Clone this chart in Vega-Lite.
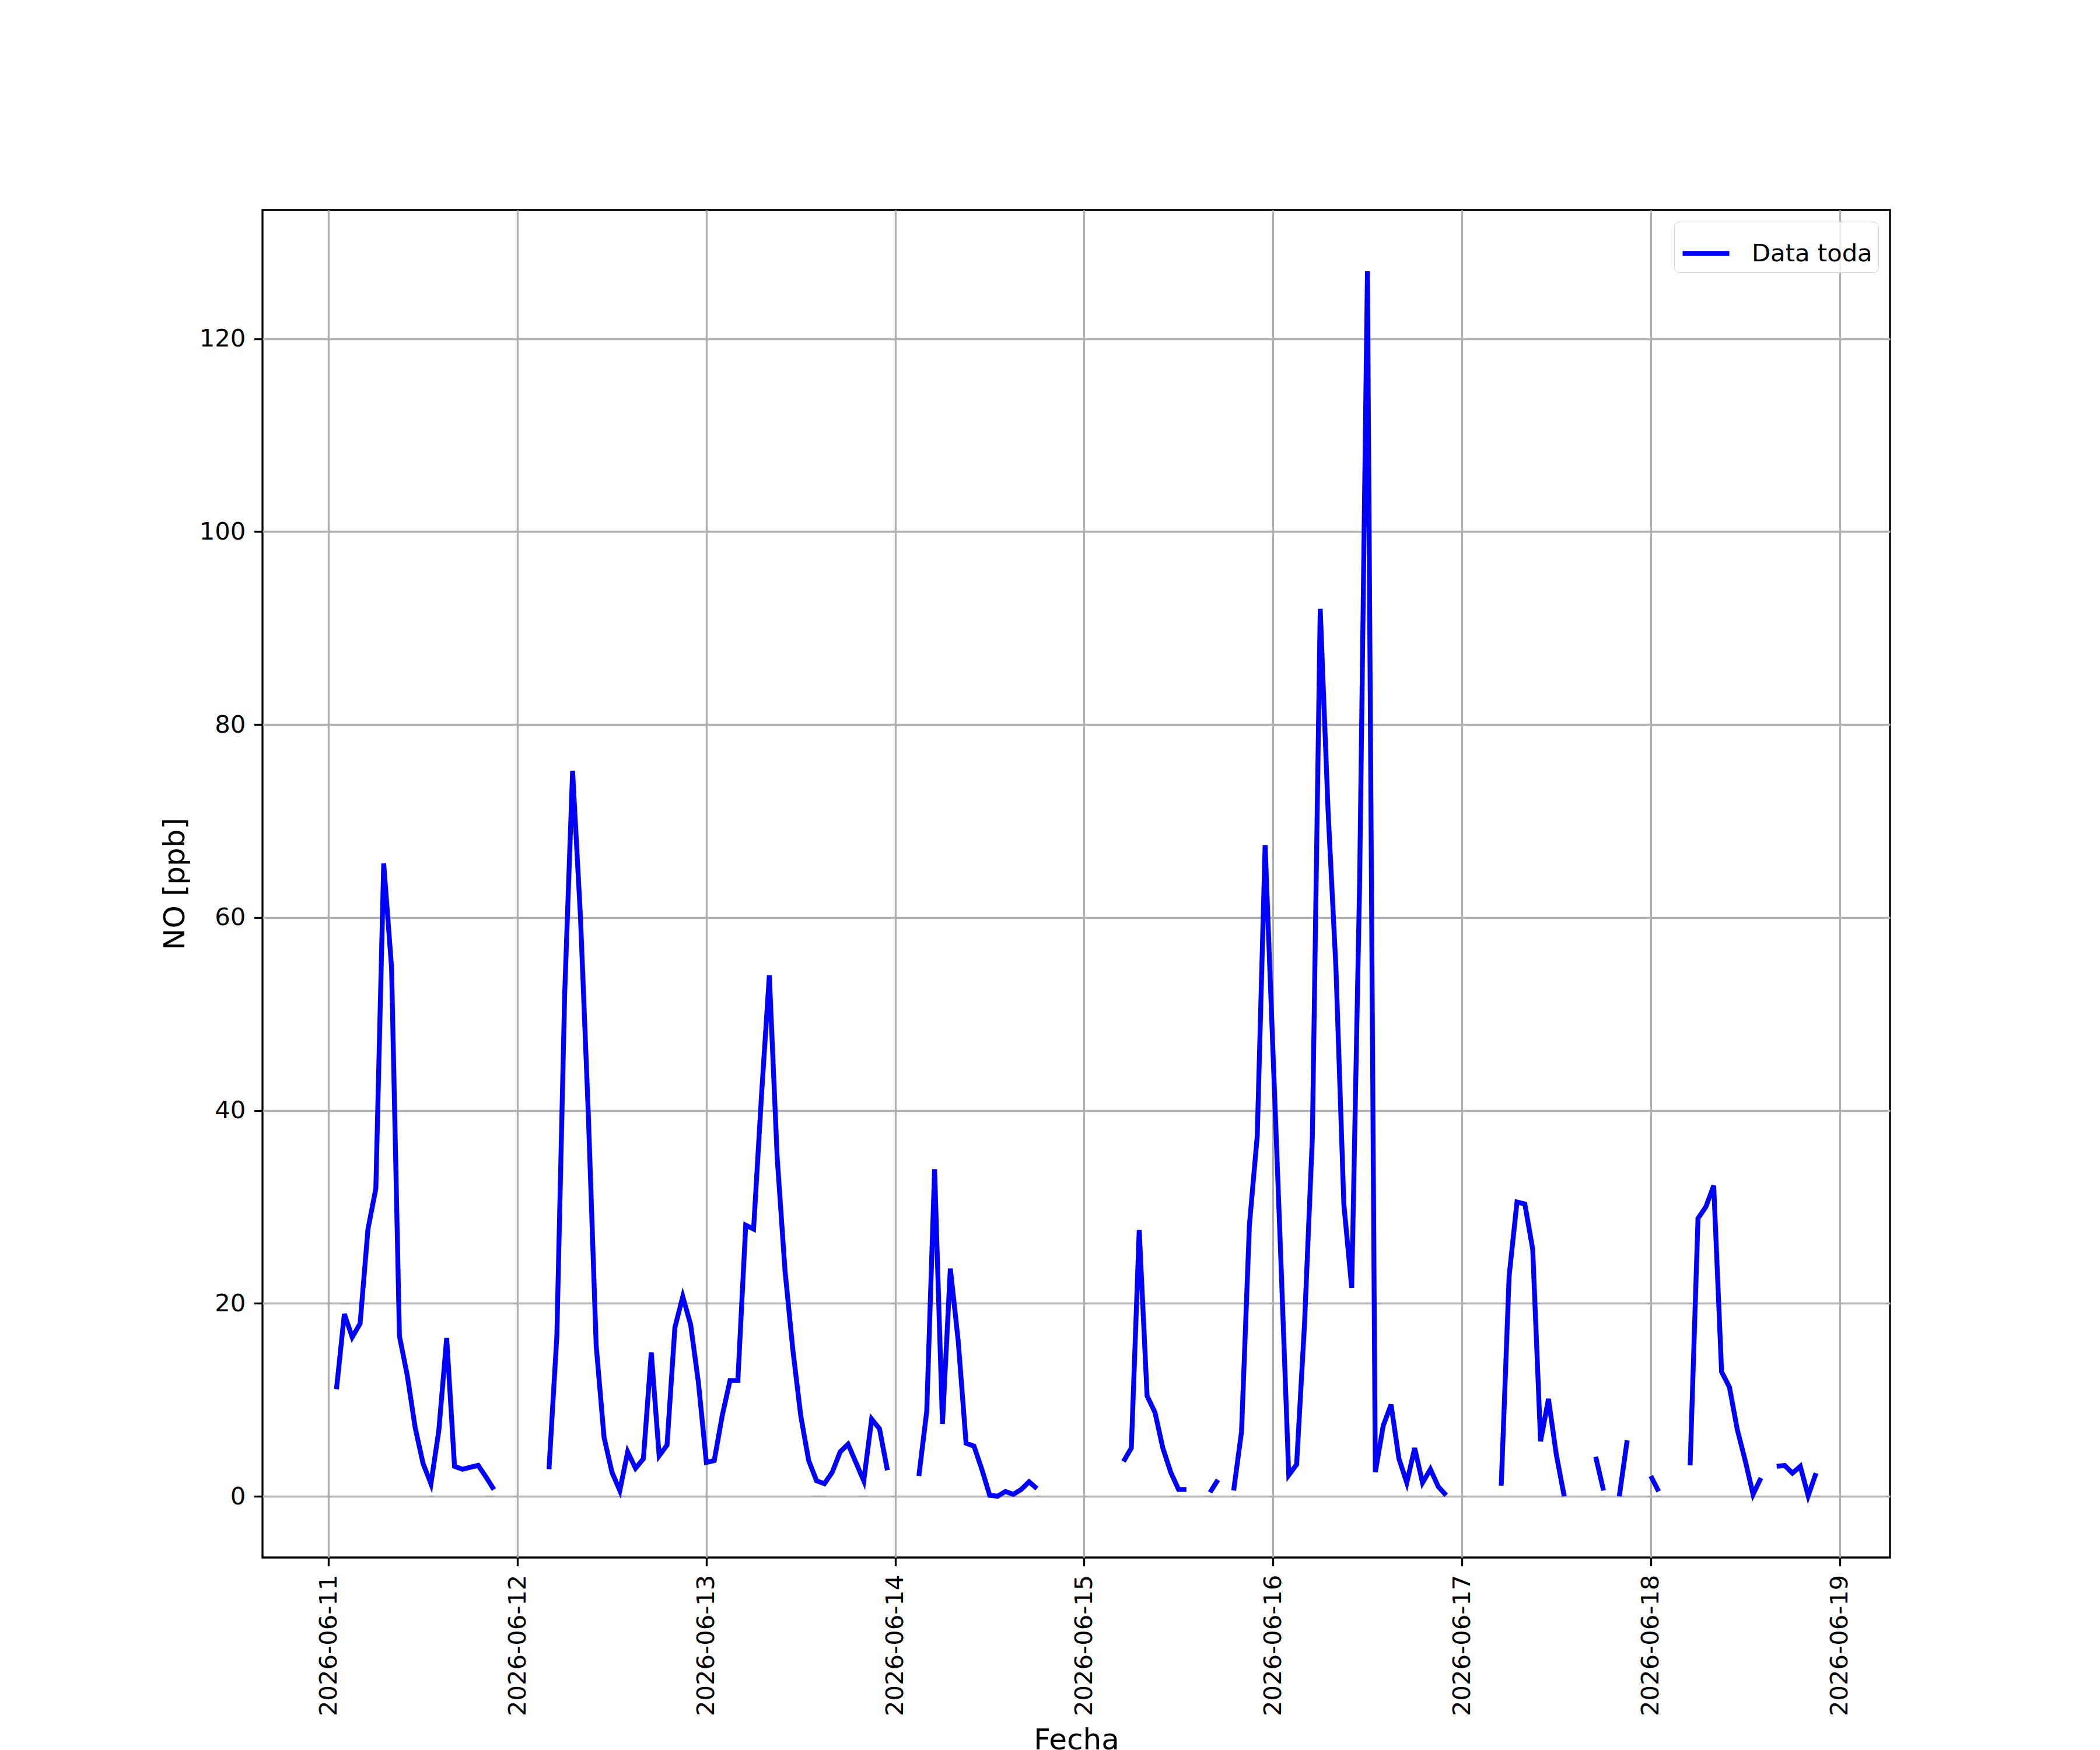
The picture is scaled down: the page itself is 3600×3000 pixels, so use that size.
{
  "$schema": "https://vega.github.io/schema/vega-lite/v6.json",
  "width": 2790,
  "height": 2310,
  "autosize": {"type": "none"},
  "padding": {"left": 450, "top": 360, "right": 360, "bottom": 330},
  "background": "white",
  "config": {
    "font": "DejaVu Sans",
    "view": {"stroke": "black", "strokeWidth": 3.33},
    "axis": {
      "domain": false,
      "grid": true,
      "gridColor": "#b0b0b0",
      "gridWidth": 3.33,
      "tickColor": "black",
      "tickWidth": 3.33,
      "tickSize": 14.6,
      "labelPadding": 14.6,
      "labelFontSize": 41.7,
      "labelColor": "black",
      "labelLimit": 0,
      "labelFlush": false,
      "labelOverlap": false,
      "titleFontSize": 50,
      "titleFontWeight": "normal",
      "titleColor": "black",
      "titlePadding": 16
    }
  },
  "data": {
    "values": [
      {"t": "2026-06-11T01:00", "v": 11.1}, {"t": "2026-06-11T02:00", "v": 18.9}, {"t": "2026-06-11T03:00", "v": 16.5}, {"t": "2026-06-11T04:00", "v": 17.9},
      {"t": "2026-06-11T05:00", "v": 27.7}, {"t": "2026-06-11T06:00", "v": 31.9}, {"t": "2026-06-11T07:00", "v": 65.6}, {"t": "2026-06-11T08:00", "v": 54.8},
      {"t": "2026-06-11T09:00", "v": 16.6}, {"t": "2026-06-11T10:00", "v": 12.5}, {"t": "2026-06-11T11:00", "v": 7.1}, {"t": "2026-06-11T12:00", "v": 3.4},
      {"t": "2026-06-11T13:00", "v": 1.3}, {"t": "2026-06-11T14:00", "v": 6.8}, {"t": "2026-06-11T15:00", "v": 16.4}, {"t": "2026-06-11T16:00", "v": 3.1},
      {"t": "2026-06-11T17:00", "v": 2.8}, {"t": "2026-06-11T18:00", "v": 3.0}, {"t": "2026-06-11T19:00", "v": 3.2}, {"t": "2026-06-11T20:00", "v": 2.0},
      {"t": "2026-06-11T21:00", "v": 0.7}, {"t": "2026-06-11T22:00", "v": null}, {"t": "2026-06-11T23:00", "v": null},
      {"t": "2026-06-12T00:00", "v": null}, {"t": "2026-06-12T01:00", "v": null}, {"t": "2026-06-12T02:00", "v": null}, {"t": "2026-06-12T03:00", "v": null},
      {"t": "2026-06-12T04:00", "v": 2.8}, {"t": "2026-06-12T05:00", "v": 16.6}, {"t": "2026-06-12T06:00", "v": 52.2}, {"t": "2026-06-12T07:00", "v": 75.2},
      {"t": "2026-06-12T08:00", "v": 60.1}, {"t": "2026-06-12T09:00", "v": 39.6}, {"t": "2026-06-12T10:00", "v": 15.6}, {"t": "2026-06-12T11:00", "v": 6.1},
      {"t": "2026-06-12T12:00", "v": 2.5}, {"t": "2026-06-12T13:00", "v": 0.6}, {"t": "2026-06-12T14:00", "v": 4.6}, {"t": "2026-06-12T15:00", "v": 2.9},
      {"t": "2026-06-12T16:00", "v": 3.9}, {"t": "2026-06-12T17:00", "v": 14.9}, {"t": "2026-06-12T18:00", "v": 4.2}, {"t": "2026-06-12T19:00", "v": 5.3},
      {"t": "2026-06-12T20:00", "v": 17.5}, {"t": "2026-06-12T21:00", "v": 20.7}, {"t": "2026-06-12T22:00", "v": 17.8}, {"t": "2026-06-12T23:00", "v": 11.7},
      {"t": "2026-06-13T00:00", "v": 3.5}, {"t": "2026-06-13T01:00", "v": 3.7}, {"t": "2026-06-13T02:00", "v": 8.3}, {"t": "2026-06-13T03:00", "v": 12.0},
      {"t": "2026-06-13T04:00", "v": 12.0}, {"t": "2026-06-13T05:00", "v": 28.1}, {"t": "2026-06-13T06:00", "v": 27.7}, {"t": "2026-06-13T07:00", "v": 41.5},
      {"t": "2026-06-13T08:00", "v": 54.0}, {"t": "2026-06-13T09:00", "v": 35.1}, {"t": "2026-06-13T10:00", "v": 23.3}, {"t": "2026-06-13T11:00", "v": 15.1},
      {"t": "2026-06-13T12:00", "v": 8.3}, {"t": "2026-06-13T13:00", "v": 3.7}, {"t": "2026-06-13T14:00", "v": 1.6}, {"t": "2026-06-13T15:00", "v": 1.3},
      {"t": "2026-06-13T16:00", "v": 2.5}, {"t": "2026-06-13T17:00", "v": 4.6}, {"t": "2026-06-13T18:00", "v": 5.4}, {"t": "2026-06-13T19:00", "v": 3.5},
      {"t": "2026-06-13T20:00", "v": 1.6}, {"t": "2026-06-13T21:00", "v": 8.0}, {"t": "2026-06-13T22:00", "v": 7.0}, {"t": "2026-06-13T23:00", "v": 2.7},
      {"t": "2026-06-14T00:00", "v": null}, {"t": "2026-06-14T01:00", "v": null}, {"t": "2026-06-14T02:00", "v": null},
      {"t": "2026-06-14T03:00", "v": 2.1}, {"t": "2026-06-14T04:00", "v": 8.8}, {"t": "2026-06-14T05:00", "v": 33.9}, {"t": "2026-06-14T06:00", "v": 7.5},
      {"t": "2026-06-14T07:00", "v": 23.6}, {"t": "2026-06-14T08:00", "v": 16.1}, {"t": "2026-06-14T09:00", "v": 5.5}, {"t": "2026-06-14T10:00", "v": 5.2},
      {"t": "2026-06-14T11:00", "v": 2.8}, {"t": "2026-06-14T12:00", "v": 0.1}, {"t": "2026-06-14T13:00", "v": 0.0}, {"t": "2026-06-14T14:00", "v": 0.5},
      {"t": "2026-06-14T15:00", "v": 0.2}, {"t": "2026-06-14T16:00", "v": 0.7}, {"t": "2026-06-14T17:00", "v": 1.5}, {"t": "2026-06-14T18:00", "v": 0.8},
      {"t": "2026-06-14T19:00", "v": null}, {"t": "2026-06-14T20:00", "v": null}, {"t": "2026-06-14T21:00", "v": null}, {"t": "2026-06-14T22:00", "v": null},
      {"t": "2026-06-14T23:00", "v": null},
      {"t": "2026-06-15T00:00", "v": null}, {"t": "2026-06-15T01:00", "v": null}, {"t": "2026-06-15T02:00", "v": null}, {"t": "2026-06-15T03:00", "v": null},
      {"t": "2026-06-15T04:00", "v": null}, {"t": "2026-06-15T05:00", "v": 3.6}, {"t": "2026-06-15T06:00", "v": 5.0}, {"t": "2026-06-15T07:00", "v": 27.6},
      {"t": "2026-06-15T08:00", "v": 10.4}, {"t": "2026-06-15T09:00", "v": 8.7}, {"t": "2026-06-15T10:00", "v": 5.0}, {"t": "2026-06-15T11:00", "v": 2.5},
      {"t": "2026-06-15T12:00", "v": 0.7}, {"t": "2026-06-15T13:00", "v": 0.7}, {"t": "2026-06-15T14:00", "v": null}, {"t": "2026-06-15T15:00", "v": null},
      {"t": "2026-06-15T16:00", "v": 0.4}, {"t": "2026-06-15T17:00", "v": 1.7}, {"t": "2026-06-15T18:00", "v": null}, {"t": "2026-06-15T19:00", "v": 0.6},
      {"t": "2026-06-15T20:00", "v": 6.7}, {"t": "2026-06-15T21:00", "v": 28.1}, {"t": "2026-06-15T22:00", "v": 37.4}, {"t": "2026-06-15T23:00", "v": 67.5},
      {"t": "2026-06-16T00:00", "v": 46.0}, {"t": "2026-06-16T01:00", "v": 24.5}, {"t": "2026-06-16T02:00", "v": 2.2}, {"t": "2026-06-16T03:00", "v": 3.3},
      {"t": "2026-06-16T04:00", "v": 17.8}, {"t": "2026-06-16T05:00", "v": 37.2}, {"t": "2026-06-16T06:00", "v": 92.0}, {"t": "2026-06-16T07:00", "v": 71.0},
      {"t": "2026-06-16T08:00", "v": 54.7}, {"t": "2026-06-16T09:00", "v": 30.3}, {"t": "2026-06-16T10:00", "v": 21.6}, {"t": "2026-06-16T11:00", "v": 63.3},
      {"t": "2026-06-16T12:00", "v": 127.0}, {"t": "2026-06-16T13:00", "v": 2.5}, {"t": "2026-06-16T14:00", "v": 7.3}, {"t": "2026-06-16T15:00", "v": 9.5},
      {"t": "2026-06-16T16:00", "v": 3.9}, {"t": "2026-06-16T17:00", "v": 1.4}, {"t": "2026-06-16T18:00", "v": 5.0}, {"t": "2026-06-16T19:00", "v": 1.4},
      {"t": "2026-06-16T20:00", "v": 2.8}, {"t": "2026-06-16T21:00", "v": 1.0}, {"t": "2026-06-16T22:00", "v": 0.1}, {"t": "2026-06-16T23:00", "v": null},
      {"t": "2026-06-17T00:00", "v": null}, {"t": "2026-06-17T01:00", "v": null}, {"t": "2026-06-17T02:00", "v": null}, {"t": "2026-06-17T03:00", "v": null},
      {"t": "2026-06-17T04:00", "v": null}, {"t": "2026-06-17T05:00", "v": 1.1}, {"t": "2026-06-17T06:00", "v": 22.8}, {"t": "2026-06-17T07:00", "v": 30.5},
      {"t": "2026-06-17T08:00", "v": 30.3}, {"t": "2026-06-17T09:00", "v": 25.6}, {"t": "2026-06-17T10:00", "v": 5.7}, {"t": "2026-06-17T11:00", "v": 10.1},
      {"t": "2026-06-17T12:00", "v": 4.3}, {"t": "2026-06-17T13:00", "v": 0.0}, {"t": "2026-06-17T14:00", "v": null}, {"t": "2026-06-17T15:00", "v": null},
      {"t": "2026-06-17T16:00", "v": null}, {"t": "2026-06-17T17:00", "v": 4.1}, {"t": "2026-06-17T18:00", "v": 0.6}, {"t": "2026-06-17T19:00", "v": null},
      {"t": "2026-06-17T20:00", "v": 0.0}, {"t": "2026-06-17T21:00", "v": 5.8}, {"t": "2026-06-17T22:00", "v": null}, {"t": "2026-06-17T23:00", "v": null},
      {"t": "2026-06-18T00:00", "v": 2.1}, {"t": "2026-06-18T01:00", "v": 0.5}, {"t": "2026-06-18T02:00", "v": null}, {"t": "2026-06-18T03:00", "v": null},
      {"t": "2026-06-18T04:00", "v": null}, {"t": "2026-06-18T05:00", "v": 3.2}, {"t": "2026-06-18T06:00", "v": 28.8}, {"t": "2026-06-18T07:00", "v": 30.0},
      {"t": "2026-06-18T08:00", "v": 32.2}, {"t": "2026-06-18T09:00", "v": 12.9}, {"t": "2026-06-18T10:00", "v": 11.3}, {"t": "2026-06-18T11:00", "v": 6.9},
      {"t": "2026-06-18T12:00", "v": 3.7}, {"t": "2026-06-18T13:00", "v": 0.2}, {"t": "2026-06-18T14:00", "v": 1.9}, {"t": "2026-06-18T15:00", "v": null},
      {"t": "2026-06-18T16:00", "v": 3.1}, {"t": "2026-06-18T17:00", "v": 3.2}, {"t": "2026-06-18T18:00", "v": 2.4}, {"t": "2026-06-18T19:00", "v": 3.1},
      {"t": "2026-06-18T20:00", "v": 0.05}, {"t": "2026-06-18T21:00", "v": 2.4}
    ]
  },
  "mark": {"type": "line", "strokeWidth": 8.33, "invalid": "break-paths-show-domains", "clip": true},
  "encoding": {
    "x": {
      "field": "t",
      "type": "temporal",
      "scale": {
        "domain": [
          {"year": 2026, "month": 6, "date": 10, "hours": 15, "minutes": 36},
          {"year": 2026, "month": 6, "date": 19, "hours": 6, "minutes": 24}
        ]
      },
      "axis": {
        "title": "Fecha",
        "titlePadding": 88,
        "format": "%Y-%m-%d",
        "labelAngle": 270,
        "labelAlign": "right",
        "labelBaseline": "middle",
        "values": [
          {"year": 2026, "month": 6, "date": 11},
          {"year": 2026, "month": 6, "date": 12},
          {"year": 2026, "month": 6, "date": 13},
          {"year": 2026, "month": 6, "date": 14},
          {"year": 2026, "month": 6, "date": 15},
          {"year": 2026, "month": 6, "date": 16},
          {"year": 2026, "month": 6, "date": 17},
          {"year": 2026, "month": 6, "date": 18},
          {"year": 2026, "month": 6, "date": 19}
        ]
      }
    },
    "y": {
      "field": "v",
      "type": "quantitative",
      "scale": {"domain": [-6.35, 133.35], "nice": false, "zero": false},
      "axis": {"title": "NO [ppb]", "values": [0, 20, 40, 60, 80, 100, 120]}
    },
    "color": {
      "datum": "Data toda",
      "type": "nominal",
      "scale": {"range": ["#0000ff"]},
      "legend": {
        "title": null,
        "orient": "top-right",
        "offset": 20,
        "symbolType": "stroke",
        "symbolStrokeWidth": 8.33,
        "symbolSize": 6400,
        "labelFontSize": 41.7,
        "labelColor": "black",
        "labelLimit": 0,
        "labelOffset": 34,
        "padding": 10,
        "strokeColor": "#cccccc",
        "fillColor": "rgba(255,255,255,0.8)",
        "cornerRadius": 9
      }
    }
  }
}
